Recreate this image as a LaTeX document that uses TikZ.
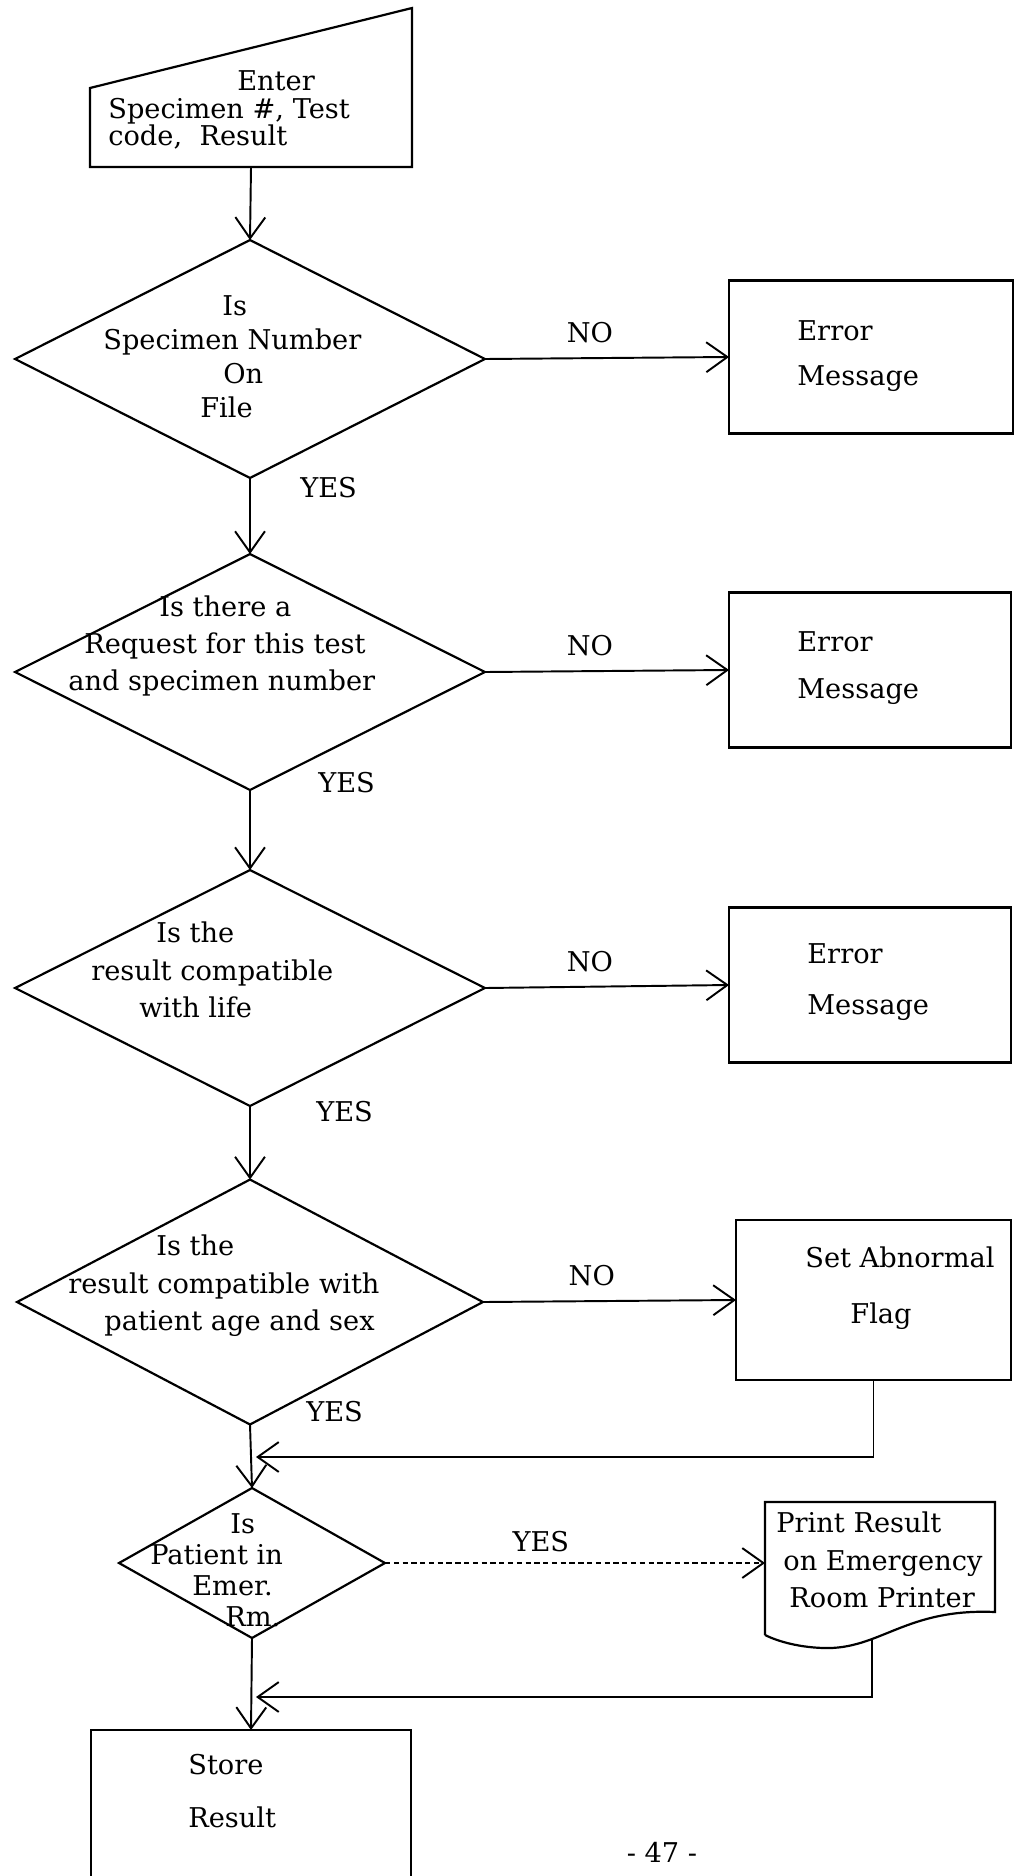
\documentclass[tikz,border=0pt]{standalone}
\usepackage{fontspec}
\setmainfont{DejaVu Serif}
\usetikzlibrary{shapes.geometric,arrows.meta}

\tikzset{
  decision/.style={draw, shape=diamond, inner sep=0pt, outer sep=0pt, line width=1.25pt},
  procbox/.style={draw, rectangle, inner sep=0pt, outer sep=0pt, line width=1.25pt},
  ghostbox/.style={rectangle, inner sep=0pt, outer sep=0pt},
  txt/.style={font=\fontsize{15.5}{#1}\selectfont, align=left, anchor=west, inner sep=0pt},
  lbl/.style={font=\fontsize{15.5}{18}\selectfont, inner sep=0pt},
  flow/.style={-{Straight Barb[length=12pt,width=17pt,line width=1.1pt]}, line width=1.1pt},
}

\begin{document}
\begin{tikzpicture}[x=0.02cm, y=-0.02cm]

\useasboundingbox (0,0) rectangle (1016,1876);

% input
\node[ghostbox, minimum width=6.44cm, minimum height=3.18cm] (enter) at (251,87.5) {};
\draw[line width=1.25pt] (enter.south west) -- ++(0,-79) -- (enter.north east) -- (enter.south east) -- cycle;
\node[txt=15.6pt] (entertxt) at (108,110) {\hspace*{2.58cm}Enter\\Specimen \#, Test\\code,\ \ Result};

% decisions
\node[decision, minimum width=9.4cm, minimum height=4.76cm] (onfile) at (250,359) {};
\node[txt=19.3pt] (onfiletxt) at (103,357) {\hspace*{2.38cm}Is\\Specimen Number\\\hspace*{2.4cm}On\\\hspace*{1.94cm}File};

\node[decision, minimum width=9.4cm, minimum height=4.72cm] (request) at (250,672) {};
\node[txt=21.3pt] (requesttxt) at (68,646) {\hspace*{1.82cm}Is there a\\\hspace*{0.32cm}Request for this test\\and specimen number};

\node[decision, minimum width=9.4cm, minimum height=4.72cm] (life) at (250,988) {};
\node[txt=21.3pt] (lifetxt) at (91,970) {\hspace*{1.3cm}Is the\\result compatible\\\hspace*{0.96cm}with life};

\node[decision, minimum width=9.32cm, minimum height=4.9cm] (agesex) at (250,1302) {};
\node[txt=21.3pt] (agesextxt) at (68,1286) {\hspace*{1.76cm}Is the\\result compatible with\\\hspace*{0.72cm}patient age and sex};

\node[decision, minimum width=5.32cm, minimum height=3cm] (emer) at (252,1563) {};
\node[txt=17.6pt] (emertxt) at (150,1570) {\hspace*{1.6cm}Is\\Patient in\\\hspace*{0.84cm}Emer.\\\hspace*{1.5cm}Rm.};

% boxes on the right
\node[procbox, minimum width=5.68cm, minimum height=3.06cm] (err1) at (871,357) {};
\node[txt=26pt] (err1txt) at (797,356) {Error\\Message};

\node[procbox, minimum width=5.64cm, minimum height=3.1cm] (err2) at (870,670) {};
\node[txt=26.6pt] (err2txt) at (797,668) {Error\\Message};

\node[procbox, minimum width=5.64cm, minimum height=3.1cm] (err3) at (870,985) {};
\node[txt=29pt] (err3txt) at (807,982) {Error\\Message};

\node[procbox, minimum width=5.5cm, minimum height=3.2cm] (flag) at (873.5,1300) {};
\node[txt=32pt] (flagtxt) at (805,1288) {Set Abnormal\\\hspace*{0.9cm}Flag};

% printer document
\node[ghostbox, minimum width=4.6cm, minimum height=2.66cm] (printer) at (880,1568.5) {};
\draw[line width=1.25pt] (printer.south west) -- (printer.north west) -- (printer.north east) -- (995,1612)
  .. controls (905,1608) and (880,1650) .. (823,1648) .. controls (795,1647) and (775,1640) .. (printer.south west);
\node[txt=21.3pt] (printertxt) at (776,1560) {Print Result\\\hspace*{0.14cm}on Emergency\\\hspace*{0.26cm}Room Printer};

% store
\node[procbox, minimum width=6.4cm, minimum height=3.4cm] (store) at (251,1815) {};
\node[txt=30pt] (storetxt) at (188,1791) {Store\\Result};

\node[lbl] (pageno) at (662,1852) {- 47 -};

% main line
\draw[flow] (enter.south) -- (onfile.north);
\draw[flow] (onfile.south) -- (request.north);
\draw[flow] (request.south) -- (life.north);
\draw[flow] (life.south) -- (agesex.north);
\draw[flow] (agesex.south) -- (emer.north);
\draw[flow] (emer.south) -- (store.north);

\node[lbl, anchor=west] (yes1) at (300,488) {YES};
\node[lbl, anchor=west] (yes2) at (318,783) {YES};
\node[lbl, anchor=west] (yes3) at (316,1112) {YES};
\node[lbl, anchor=west] (yes4) at (306,1412) {YES};

% branches
\draw[flow] (onfile.east) -- node[lbl, pos=0.43, above=8pt] (no1) {NO} (err1.west);
\draw[flow] (request.east) -- node[lbl, pos=0.43, above=8pt] (no2) {NO} (err2.west);
\draw[flow] (life.east) -- node[lbl, pos=0.43, above=8pt] (no3) {NO} (err3.west);
\draw[flow] (agesex.east) -- node[lbl, pos=0.43, above=8pt] (no4) {NO} (flag.west);
\draw[flow, densely dashed] (emer.east) -- node[lbl, pos=0.41, above=6pt] (yes5) {YES} (emer.east -| printer.west);

% back to the main line
\coordinate (join1) at (256,1457);
\coordinate (printfoot) at (872,1638);
\coordinate (join2) at (256,1697);
\draw[flow] (flag.south) |- (join1);
\draw[flow] (printfoot) |- (join2);

\end{tikzpicture}
\end{document}
